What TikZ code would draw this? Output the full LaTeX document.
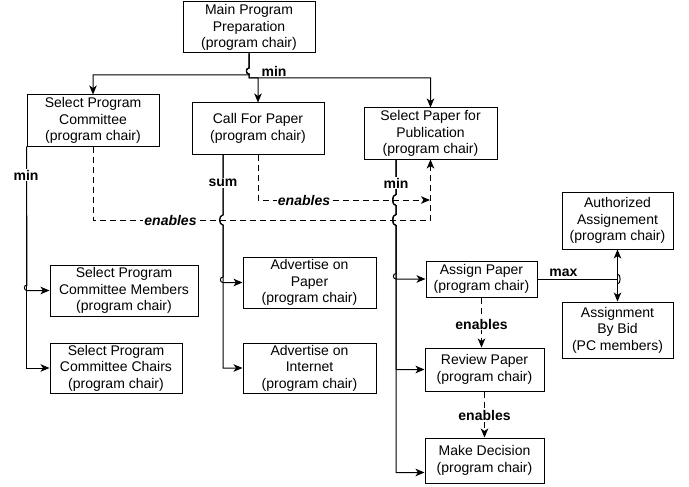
\documentclass[tikz,border=0pt]{standalone}
\usepackage{fontspec}
\setmainfont{Liberation Sans}
\usetikzlibrary{arrows.meta}
\begin{document}
\begin{tikzpicture}[x=1pt,y=-1pt,
  box/.style={draw, line width=1pt, inner sep=0pt, align=center,
              font=\fontsize{14}{16.6}\selectfont},
  wire/.style={line width=1pt},
  conn/.style={wire, -{Stealth[length=9pt,width=7.5pt,inset=2.5pt]}},
  dconn/.style={conn, dash pattern=on 6pt off 4pt},
  lbl/.style={font=\fontsize{14}{16}\selectfont\bfseries, inner sep=1pt},
  elbl/.style={lbl, font=\fontsize{14}{16}\selectfont\bfseries\itshape, fill=white},
]
\useasboundingbox (0,0) rectangle (689,487);

% tasks
\node[box, minimum width=132pt, minimum height=51pt] (main) at (249,27.5) {Main Program\\Preparation\\(program chair)};
\node[box, minimum width=132pt, minimum height=51pt] (spc) at (93,120.5) {Select Program\\Committee\\(program chair)};
\node[box, minimum width=132pt, minimum height=51pt] (cfp) at (258,128.5) {Call For Paper\\(program chair)};
\node[box, minimum width=133pt, minimum height=51pt] (spp) at (430.5,133.5) {Select Paper for\\Publication\\(program chair)};
\node[box, minimum width=148pt, minimum height=51pt] (mem) at (124,290.5) {Select Program\\Committee Members\\(program chair)};
\node[box, minimum width=132pt, minimum height=50pt] (chr) at (116,368) {Select Program\\Committee Chairs\\(program chair)};
\node[box, minimum width=133pt, minimum height=51pt] (advp) at (309.5,282.5) {Advertise on\\Paper\\(program chair)};
\node[box, minimum width=133pt, minimum height=50pt] (advi) at (309.5,368) {Advertise on\\Internet\\(program chair)};
\node[box, minimum width=111pt, minimum height=36pt] (asg) at (481.5,279) {Assign Paper\\(program chair)};
\node[box, minimum width=119pt, minimum height=43pt] (rev) at (484.5,369.5) {Review Paper\\(program chair)};
\node[box, minimum width=119pt, minimum height=45pt] (mkd) at (484.5,460.5) {Make Decision\\(program chair)};
\node[box, minimum width=111pt, minimum height=57pt] (auth) at (617.5,220.5) {Authorized\\Assignement\\(program chair)};
\node[box, minimum width=111pt, minimum height=56pt] (bid) at (617.5,330) {Assignment\\By Bid\\(PC members)};

% decomposition of the main task
\draw[conn] (main.south) -- (249,68) .. controls (245.5,68) and (245.5,74) .. (249,74) -- (249,75) -| (spc.north);
\draw[conn] (main.south) -- (249,68) .. controls (245.5,68) and (245.5,74) .. (249,74) -- (249,78) -| (cfp.north);
\draw[conn] (main.south) -- (249,68) .. controls (245.5,68) and (245.5,74) .. (249,74) -- (249,78) -| (spp.north);

% committee selection
\draw[conn] (spc.south west) -- (27,285) .. controls (23.5,285) and (23.5,290.5) .. (27,290.5) -- (mem.west);
\draw[conn] (spc.south west) |- (chr.west);

% call for paper
\draw[conn] ([xshift=-35pt]cfp.south) -- (223,215) .. controls (218.5,215) and (218.5,225) .. (223,225)
  -- (223,277) .. controls (219.5,277) and (219.5,282.5) .. (223,282.5) -- (advp.west);
\draw[conn] ([xshift=-35pt]cfp.south) -- (223,215) .. controls (218.5,215) and (218.5,225) .. (223,225) |- (advi.west);

% paper selection
\draw[conn] ([xshift=-34.5pt]spp.south) -- (396,194.5) .. controls (391.5,194.5) and (391.5,205.5) .. (396,205.5)
  -- (396,214.5) .. controls (391.5,214.5) and (391.5,225.5) .. (396,225.5)
  -- (396,273.5) .. controls (392.5,273.5) and (392.5,279) .. (396,279) -- (asg.west);
\draw[conn] ([xshift=-34.5pt]spp.south) -- (396,194.5) .. controls (391.5,194.5) and (391.5,205.5) .. (396,205.5)
  -- (396,214.5) .. controls (391.5,214.5) and (391.5,225.5) .. (396,225.5) |- (rev.west);
\draw[conn] ([xshift=-34.5pt]spp.south) -- (396,194.5) .. controls (391.5,194.5) and (391.5,205.5) .. (396,205.5)
  -- (396,214.5) .. controls (391.5,214.5) and (391.5,225.5) .. (396,225.5) |- ([yshift=-12pt]mkd.west);

% assignment alternatives
\draw[conn] (asg.east) -| (auth.south);
\draw[conn] (asg.east) -| (bid.north);
\draw[wire] (617.5,274) .. controls (621,274) and (621,284) .. (617.5,284);

% enabling relations
\coordinate (d2end) at (430,200);
\draw[dconn] (spc.south) -- (93,220) -| (spp.south);
\draw[dconn] (cfp.south) -- (258,200) -- (d2end);
\draw[dconn] (asg.south) -- (asg.south |- rev.north);
\draw[dconn] (rev.south) -- (mkd.north);

% labels
\node[lbl, fill=white] (lmin1) at (26,175) {min};
\node[lbl, fill=white] (lsum) at (223,183) {sum};
\node[lbl, fill=white] (lmin2) at (396,183) {min};
\node[lbl] (lmin0) at (274,71) {min};
\node[lbl] (lmax) at (563.5,273) {max};
\node[elbl] (le1) at (170.5,220) {enables};
\node[elbl] (le2) at (304,200) {enables};
\node[lbl, fill=white] (le3) at (481.5,324) {enables};
\node[lbl, fill=white] (le4) at (484.5,415) {enables};
\end{tikzpicture}
\end{document}
